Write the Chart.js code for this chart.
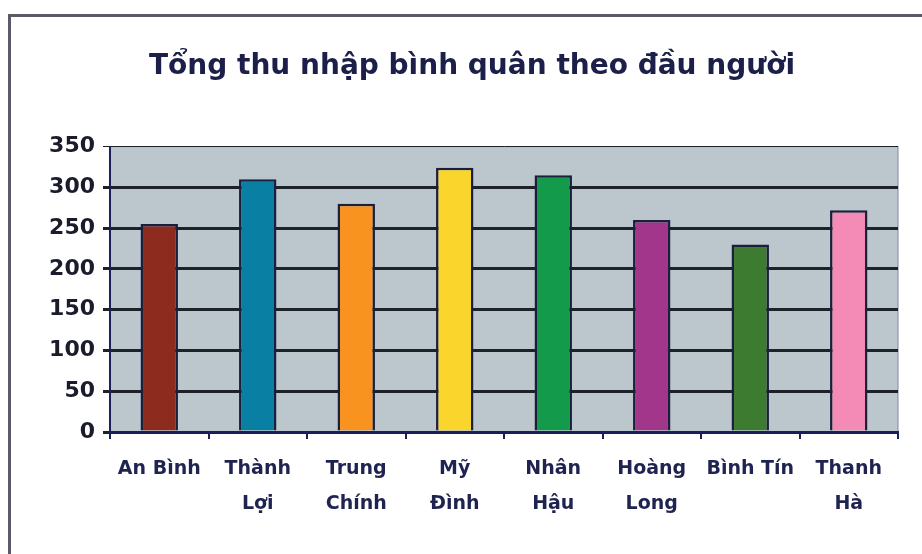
<!DOCTYPE html>
<html>
<head>
<meta charset="utf-8">
<script src="https://cdn.jsdelivr.net/npm/chart.js@4.4.1/dist/chart.umd.min.js"></script>
<style>
  body { margin: 0; background: #ffffff; }
  #wrap { position: relative; width: 922px; height: 554px; overflow: hidden; }
  #frame { position: absolute; left: 8px; top: 14px; width: 1000px; height: 600px;
           border-left: 3px solid #5b5b68; border-top: 3px solid #5b5b68; }
  #myChart { position: absolute; left: 0; top: 0; }
</style>
</head>
<body>
<div id="wrap">
  <div id="frame"></div>
  <canvas id="myChart" width="922" height="554"></canvas>
</div>
<script>
// data
const communes = [
  'An Bình',
  ['Thành', 'Lợi'],
  ['Trung', 'Chính'],
  ['Mỹ', 'Đình'],
  ['Nhân', 'Hậu'],
  ['Hoàng', 'Long'],
  'Bình Tín',
  ['Thanh', 'Hà']
];
const income = [255, 310, 280, 324, 315, 260, 230, 272];
const barColours = ['#8e2b1f', '#0a7fa4', '#f7931e', '#fad52b', '#139a4a', '#a1368b', '#3d7b30', '#f48ab6'];
const yTicks = [0, 50, 100, 150, 200, 250, 300, 350];

// grey plot background like the old Excel chart
const plotBg = {
  id: 'plotBg',
  beforeDraw(chart) {
    const a = chart.chartArea;
    const ctx = chart.ctx;
    ctx.save();
    ctx.fillStyle = '#bcc7cd';
    ctx.fillRect(a.left, a.top, a.right - a.left, a.bottom - a.top);
    ctx.strokeStyle = '#7d8aa0';
    ctx.lineWidth = 1;
    ctx.strokeRect(a.left, a.top, a.right - a.left, a.bottom - a.top);
    ctx.restore();
  }
};

const data = {
  labels: communes,
  datasets: [{
    label: 'Tổng thu nhập',
    data: income,
    backgroundColor: barColours,
    borderColor: '#1b1f3c',
    borderWidth: 2.5,
    barPercentage: 0.38,
    categoryPercentage: 1
  }]
};

const config = {
  type: 'bar',
  data: data,
  plugins: [plotBg],
  options: {
    responsive: false,
    animation: false,
    layout: { padding: { left: 46, right: 24, top: 0, bottom: 0 } },
    plugins: {
      legend: { display: false },
      tooltip: { enabled: false },
      title: {
        display: true,
        text: 'Tổng thu nhập bình quân theo đầu người',
        color: '#1b1f4a',
        font: { family: 'DejaVu Sans', size: 28, weight: 'bold' },
        padding: { top: 50, bottom: 63 }
      }
    },
    scales: {
      x: {
        offset: true,
        border: { color: '#1b1f5a', width: 2 },
        grid: { display: true, drawOnChartArea: false, offset: true, tickLength: 7, color: '#1b1f5a', lineWidth: 2 },
        ticks: {
          color: '#1f2350',
          font: { family: 'DejaVu Sans', size: 19, weight: 'bold', lineHeight: 1.85 },
          padding: 12,
          maxRotation: 0,
          autoSkip: false
        },
        afterFit(scale) { scale.height = 122; }
      },
      y: {
        min: 0,
        max: 350,
        afterBuildTicks(scale) { scale.ticks = yTicks.map(v => ({ value: v })); },
        border: { color: '#1b1f5a', width: 2 },
        grid: {
          color: '#1c2228',
          lineWidth: ctx => (ctx.tick && ctx.tick.value === 350 ? 1 : 3),
          tickLength: 7
        },
        ticks: {
          color: '#1a1c2c',
          font: { family: 'DejaVu Sans', size: 22, weight: 'bold' },
          padding: 8
        },
        afterFit(scale) { scale.width = 64; }
      }
    }
  }
};

const myChart = new Chart(document.getElementById('myChart'), config);
</script>
</body>
</html>
